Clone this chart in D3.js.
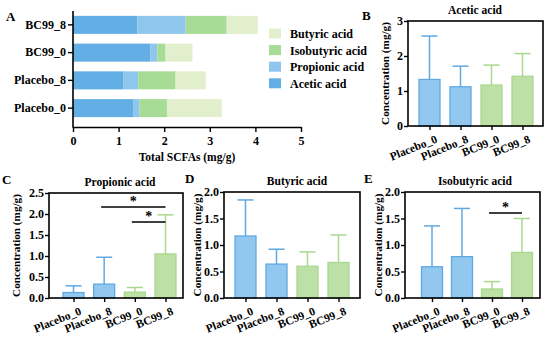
<!DOCTYPE html>
<html>
<head>
<meta charset="utf-8">
<script src="https://cdn.jsdelivr.net/npm/d3@7"></script>
<style>
  body { margin: 0; background: #fff; }
</style>
</head>
<body>
<div id="chart"></div>
<script>
// ---- data ----
const groups = ['Placebo_0', 'Placebo_8', 'BC99_0', 'BC99_8'];
const stackOrder = ['BC99_8', 'BC99_0', 'Placebo_8', 'Placebo_0'];
const acids = ['Acetic acid', 'Propionic acid', 'Isobutyric acid', 'Butyric acid'];

// panel A segments, in groups order
const totalAcetic = [1.33, 1.11, 1.70, 1.41];
const totalPropionic = [0.13, 0.32, 0.15, 1.06];
const totalIsobutyric = [0.60, 0.82, 0.18, 0.90];
const totalButyric = [1.20, 0.66, 0.59, 0.68];
const totalTicks = [0, 1, 2, 3, 4, 5];

// panels B-E: means and upper SD
const aceticMean = [1.33, 1.12, 1.17, 1.42];
const aceticSD = [1.24, 0.59, 0.57, 0.65];
const propionicMean = [0.13, 0.33, 0.14, 1.05];
const propionicSD = [0.16, 0.64, 0.11, 0.93];
const butyricMean = [1.17, 0.64, 0.60, 0.67];
const butyricSD = [0.68, 0.28, 0.27, 0.52];
const isobutyricMean = [0.59, 0.78, 0.17, 0.86];
const isobutyricSD = [0.77, 0.91, 0.14, 0.64];

const aceticTicks = [0, 1, 2, 3];
const propionicTicks = [0, 0.5, 1.0, 1.5, 2.0, 2.5];
const butyricTicks = [0, 0.5, 1.0, 1.5, 2.0];
const isobutyricTicks = [0, 0.5, 1.0, 1.5, 2.0];

// significance pairs (group indexes)
const propionicSig = [[1, 3], [2, 3]];
const isobutyricSig = [[2, 3]];

// ---- style ----
const font = '"Liberation Serif", "Times New Roman", serif';
const acidColors = ['#64aee6', '#8fc6ee', '#a6dc96', '#e2efcc'];
const barFill = ['#92c8f0', '#92c8f0', '#bde0a6', '#bde0a6'];
const barStroke = ['#60a9e2', '#60a9e2', '#a9d88f', '#a9d88f'];

const svg = d3.select('#chart').append('svg')
  .attr('width', 550).attr('height', 346);

function txt(sel, size) {
  return sel.attr('font-family', font).attr('font-weight', 'bold')
    .attr('font-size', size).attr('fill', '#000');
}

// ---- panel A ----
const x = d3.scaleLinear().domain([0, 5]).range([73, 301]);
const y = d3.scaleBand().domain(stackOrder).range([11, 122])
  .paddingInner(0.35).paddingOuter(0.175);

const rows = groups.map((g, i) => ({
  group: g,
  'Acetic acid': totalAcetic[i],
  'Propionic acid': totalPropionic[i],
  'Isobutyric acid': totalIsobutyric[i],
  'Butyric acid': totalButyric[i]
}));
const stacked = d3.stack().keys(acids)(rows);

const gA = svg.append('g');
gA.selectAll('g.layer')
  .data(stacked)
  .enter().append('g')
    .attr('class', 'layer')
    .attr('fill', (d, i) => acidColors[i])
  .selectAll('rect')
  .data(d => d)
  .enter().append('rect')
    .attr('x', d => x(d[0]))
    .attr('width', d => x(d[1]) - x(d[0]))
    .attr('y', d => y(d.data.group))
    .attr('height', y.bandwidth());

gA.append('g')
  .attr('transform', 'translate(0,127)')
  .call(d3.axisBottom(x).tickValues(totalTicks).tickFormat(d3.format('d')).tickSize(5).tickSizeOuter(0))
  .call(g => g.select('.domain').attr('stroke-width', 1.6))
  .call(g => g.selectAll('.tick line').attr('stroke-width', 1.4))
  .call(g => txt(g.selectAll('text'), 12).attr('dy', '0.85em'));

gA.append('g')
  .attr('transform', 'translate(73,0)')
  .call(d3.axisLeft(y).tickSize(5).tickSizeOuter(0))
  .call(g => g.select('.domain').remove())
  .call(g => g.selectAll('.tick line').attr('stroke-width', 1.4))
  .call(g => txt(g.selectAll('text'), 12).attr('x', -7));
gA.append('line')
  .attr('x1', 73).attr('x2', 73).attr('y1', 11).attr('y2', 127.8)
  .attr('stroke', '#000').attr('stroke-width', 1.6);

txt(gA.append('text'), 11.5)
  .attr('x', 187).attr('y', 161)
  .attr('text-anchor', 'middle')
  .text('Total SCFAs (mg/g)');

txt(gA.append('text'), 13).attr('x', 6).attr('y', 21).text('A');

// legend, butyric on top
const legend = gA.selectAll('g.leg')
  .data(acids.slice().reverse())
  .enter().append('g')
    .attr('transform', (d, i) => `translate(269,${33.5 + i * 16.6})`);
legend.append('rect')
  .attr('x', 0).attr('y', -5).attr('width', 12).attr('height', 10)
  .attr('fill', d => acidColors[acids.indexOf(d)]);
txt(legend.append('text'), 12)
  .attr('x', 21).attr('y', 4.5)
  .text(d => d);

// ---- bar panels ----
function barPanel(opt) {
  const g = svg.append('g');
  const ys = d3.scaleLinear().domain(opt.domain).range([opt.y1, opt.y0]);
  const xs = d3.scalePoint().domain(groups).range([opt.c0, opt.c1]);
  const bw = 21;

  // bars
  g.selectAll('rect.bar')
    .data(opt.mean)
    .enter().append('rect')
      .attr('class', 'bar')
      .attr('x', (d, i) => xs(groups[i]) - bw / 2)
      .attr('width', bw)
      .attr('y', d => ys(d))
      .attr('height', d => ys(0) - ys(d))
      .attr('fill', (d, i) => barFill[i])
      .attr('stroke', (d, i) => barStroke[i])
      .attr('stroke-width', 1.3);

  // error bars (upper only)
  const err = g.selectAll('g.err')
    .data(opt.mean)
    .enter().append('g')
      .attr('stroke', (d, i) => barStroke[i])
      .attr('stroke-width', 1.5);
  err.append('line')
    .attr('x1', (d, i) => xs(groups[i])).attr('x2', (d, i) => xs(groups[i]))
    .attr('y1', d => ys(d)).attr('y2', (d, i) => ys(d + opt.sd[i]));
  err.append('line')
    .attr('x1', (d, i) => xs(groups[i]) - 8).attr('x2', (d, i) => xs(groups[i]) + 8)
    .attr('y1', (d, i) => ys(d + opt.sd[i])).attr('y2', (d, i) => ys(d + opt.sd[i]));

  // frame
  g.append('rect')
    .attr('x', opt.x0).attr('y', opt.y0)
    .attr('width', opt.x1 - opt.x0).attr('height', opt.y1 - opt.y0)
    .attr('fill', 'none').attr('stroke', '#000').attr('stroke-width', 1.6);

  g.append('g')
    .attr('transform', `translate(${opt.x0},0)`)
    .call(d3.axisLeft(ys).tickValues(opt.ticks).tickFormat(d3.format(opt.fmt)).tickSize(4).tickSizeOuter(0))
    .call(s => s.select('.domain').remove())
    .call(s => s.selectAll('.tick line').attr('stroke-width', 1.4))
    .call(s => txt(s.selectAll('text'), 12).attr('x', -5));

  g.append('g')
    .attr('transform', `translate(0,${opt.y1})`)
    .call(d3.axisBottom(xs).tickSize(4).tickSizeOuter(0))
    .call(s => s.select('.domain').remove())
    .call(s => s.selectAll('.tick line').attr('stroke-width', 1.4))
    .call(s => txt(s.selectAll('text'), 11.5)
      .attr('text-anchor', 'end')
      .attr('x', 0).attr('y', 0).attr('dy', 0)
      .attr('transform', 'translate(8,16) rotate(-22)'));

  txt(g.append('text'), 11.2)
    .attr('transform', `translate(${opt.labelX},${(opt.y0 + opt.y1) / 2}) rotate(-90)`)
    .attr('text-anchor', 'middle')
    .text(opt.ylabel);

  txt(g.append('text'), 11.5)
    .attr('x', opt.titleX).attr('y', opt.y0 - 7)
    .attr('text-anchor', 'middle')
    .text(opt.title);

  txt(g.append('text'), 13)
    .attr('x', opt.letterX).attr('y', opt.letterY)
    .text(opt.letter);

  // significance marks
  (opt.sig || []).forEach((p, k) => {
    const ly = opt.sigY[k];
    const xa = xs(groups[p[0]]) - 3, xb = xs(groups[p[1]]);
    g.append('line')
      .attr('x1', xa).attr('x2', xb).attr('y1', ly).attr('y2', ly)
      .attr('stroke', '#000').attr('stroke-width', 1.6);
    txt(g.append('text'), 14)
      .attr('x', (xa + xb) / 2).attr('y', ly - 1)
      .attr('text-anchor', 'middle')
      .text('*');
  });
}

barPanel({ title: 'Acetic acid', letter: 'B', mean: aceticMean, sd: aceticSD,
  domain: [0, 3], ticks: aceticTicks, fmt: 'd', ylabel: 'Concentration (mg/g)',
  x0: 408, x1: 543, y0: 21, y1: 126, c0: 429.5, c1: 522.5,
  labelX: 389, titleX: 475, letterX: 362, letterY: 20 });

barPanel({ title: 'Propionic acid', letter: 'C', mean: propionicMean, sd: propionicSD,
  domain: [0, 2.5], ticks: propionicTicks, fmt: '.1f', ylabel: 'Concentration  (mg/g)',
  x0: 49, x1: 183, y0: 193, y1: 298, c0: 73.5, c1: 165.5,
  labelX: 20, titleX: 120, letterX: 2, letterY: 184,
  sig: propionicSig, sigY: [207, 222] });

barPanel({ title: 'Butyric acid', letter: 'D', mean: butyricMean, sd: butyricSD,
  domain: [0, 2], ticks: butyricTicks, fmt: '.1f', ylabel: 'Concentration (mg/g)',
  x0: 224, x1: 360, y0: 192, y1: 298, c0: 245.5, c1: 338.5,
  labelX: 201, titleX: 297, letterX: 185, letterY: 183 });

barPanel({ title: 'Isobutyric acid', letter: 'E', mean: isobutyricMean, sd: isobutyricSD,
  domain: [0, 2], ticks: isobutyricTicks, fmt: '.1f', ylabel: 'Concentration (mg/g)',
  x0: 405, x1: 540, y0: 192, y1: 298, c0: 432, c1: 522,
  labelX: 382, titleX: 475, letterX: 364, letterY: 183,
  sig: isobutyricSig, sigY: [213] });
</script>
</body>
</html>
